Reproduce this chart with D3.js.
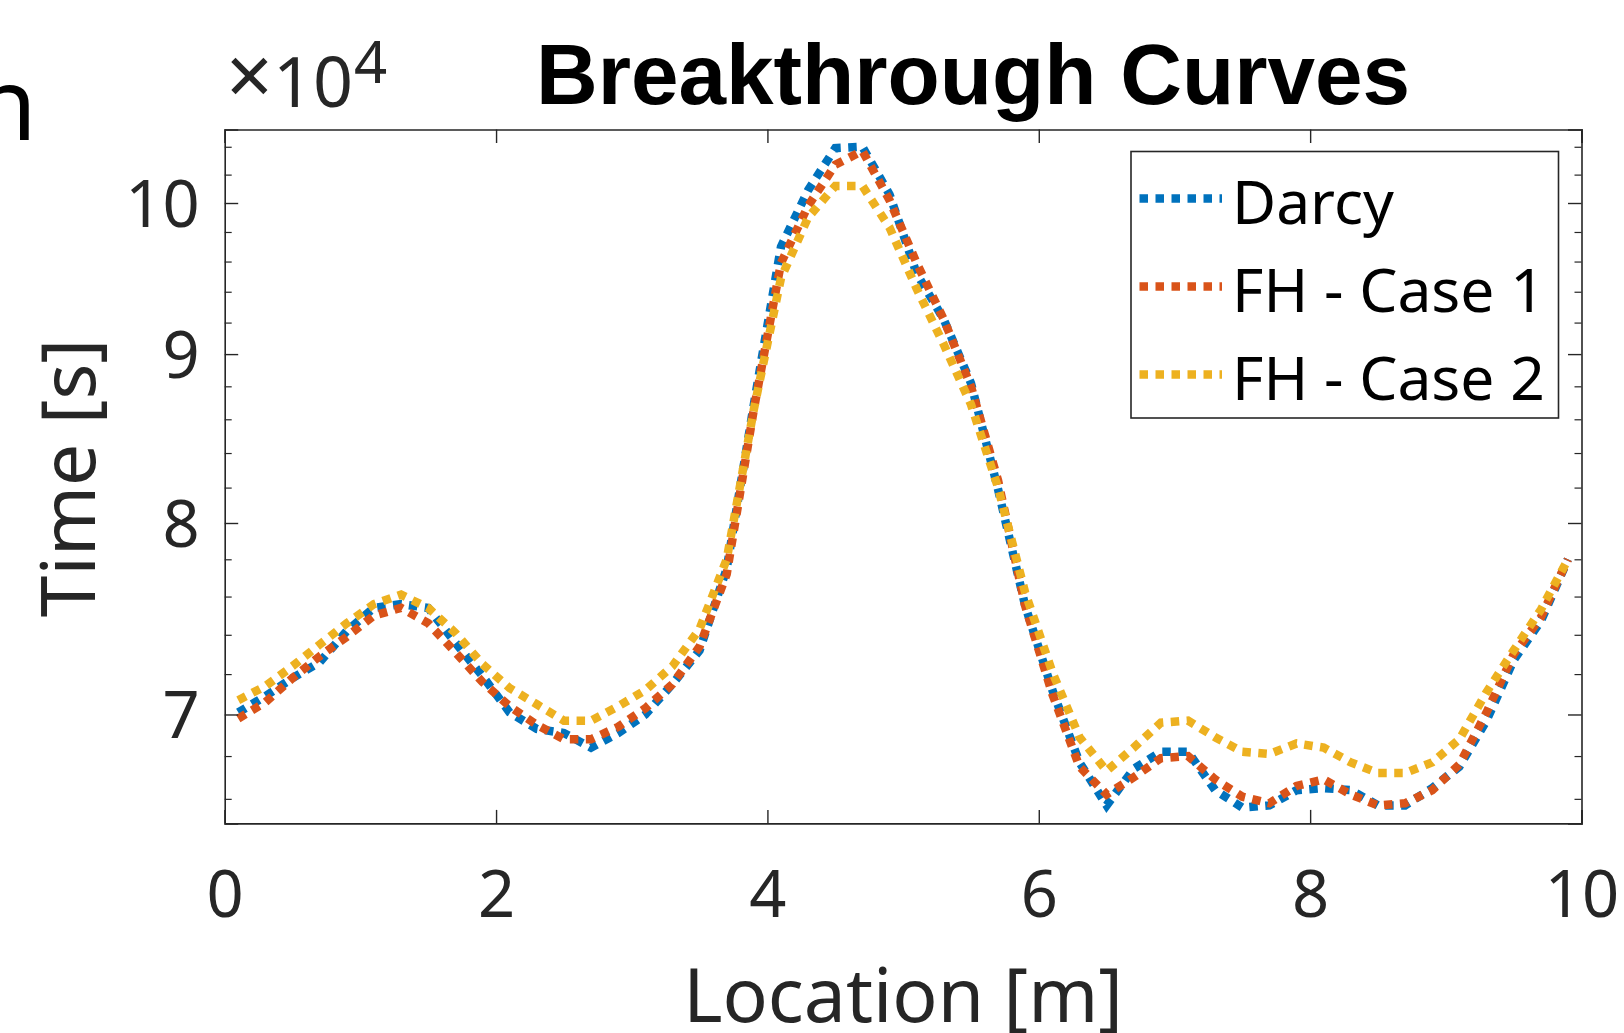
<!DOCTYPE html>
<html>
<head>
<meta charset="utf-8">
<script src="https://cdn.jsdelivr.net/npm/d3@7"></script>
<style>
  html, body { margin: 0; padding: 0; background: #ffffff; }
  svg { display: block; }
</style>
</head>
<body>
<svg id="chart" width="1624" height="1033"></svg>
<script>
// ---------------- DATA ----------------
const locations = [0.1,0.3,0.5,0.7,0.9,1.1,1.3,1.5,1.7,1.9,2.1,2.3,2.5,2.7,2.9,3.1,3.3,3.5,3.7,3.9,
  4.1,4.3,4.5,4.7,4.9,5.1,5.3,5.5,5.7,5.9,6.1,6.3,6.5,6.7,6.9,7.1,7.3,7.5,7.7,7.9,
  8.1,8.3,8.5,8.7,8.9,9.1,9.3,9.5,9.7,9.9];
// Time values in units of 10^4 s
const timeDarcy = [7.01,7.09,7.18,7.26,7.42,7.54,7.56,7.54,7.36,7.19,7.01,6.93,6.91,6.84,6.91,7.00,7.15,7.32,7.75,8.69,
  9.70,10.09,10.39,10.40,10.06,9.52,9.22,8.82,8.19,7.55,7.12,6.77,6.57,6.74,6.82,6.82,6.64,6.56,6.57,6.64,
  6.65,6.64,6.57,6.57,6.65,6.75,6.97,7.27,7.47,7.80];
const timeCase1 = [6.98,7.06,7.18,7.29,7.39,7.50,7.54,7.46,7.31,7.16,7.04,6.95,6.88,6.88,6.94,7.03,7.15,7.34,7.72,8.66,
  9.59,9.98,10.27,10.37,10.02,9.59,9.22,8.80,8.24,7.55,7.10,6.75,6.62,6.70,6.79,6.80,6.69,6.61,6.58,6.66,
  6.69,6.62,6.57,6.58,6.64,6.76,7.01,7.30,7.49,7.80];
const timeCase2 = [7.07,7.14,7.24,7.35,7.46,7.56,7.61,7.54,7.41,7.25,7.13,7.05,6.97,6.97,7.04,7.12,7.24,7.43,7.80,8.66,
  9.49,9.90,10.12,10.12,9.83,9.42,9.06,8.69,8.20,7.62,7.21,6.89,6.73,6.84,6.96,6.97,6.89,6.82,6.81,6.86,
  6.84,6.77,6.72,6.72,6.77,6.88,7.11,7.32,7.53,7.80];
const seriesNames = ["Darcy", "FH - Case 1", "FH - Case 2"];
const seriesColors = ["#0072BD", "#D95319", "#EDB120"];
const xTicks = [0, 2, 4, 6, 8, 10];
const yTicks = [7, 8, 9, 10];
const yMinorTicks = [6.6,6.8,7.2,7.4,7.6,7.8,8.2,8.4,8.6,8.8,9.2,9.4,9.6,9.8,10.2,10.4];
const xDomain = [0, 10];
const yDomain = [6.488, 10.526];

// ---------------- LAYOUT ----------------
const L = 224.7, R = 1581.5, T = 129.5, B = 823.4;
const axisColor = "#262626";
const fontMain = "'Noto Sans', 'Open Sans', sans-serif";

const svg = d3.select("#chart");
const x = d3.scaleLinear().domain(xDomain).range([L, R]);
const y = d3.scaleLog().domain(yDomain).range([B, T]);

// ---------------- LINES ----------------
const series = [timeDarcy, timeCase1, timeCase2];
const line = d3.line().x((d, i) => x(locations[i])).y(d => y(d));
const plotG = svg.append("g");
series.forEach((vals, k) => {
  plotG.append("path")
    .datum(vals)
    .attr("d", line)
    .attr("fill", "none")
    .attr("stroke", seriesColors[k])
    .attr("stroke-width", 8.5)
    .attr("stroke-dasharray", "8.5 7.5")
    .attr("stroke-linecap", "butt")
    .attr("stroke-linejoin", "miter");
});

// ---------------- AXES ----------------
const majorLen = 13.5, minorLen = 7;
const axG = svg.append("g");
// bottom axis (ticks inward)
const xAxisB = d3.axisBottom(x).tickValues(xTicks).tickSize(-majorLen).tickFormat(d3.format("d"));
const gxb = axG.append("g").attr("transform", `translate(0,${B})`).call(xAxisB);
gxb.select(".domain").attr("stroke", axisColor).attr("stroke-width", 1.6);
gxb.selectAll(".tick line").attr("stroke", axisColor).attr("stroke-width", 1.4);
gxb.selectAll(".tick text")
  .attr("fill", axisColor).attr("font-family", fontMain).attr("font-size", 65)
  .attr("dy", null).attr("y", 94);
// top axis
const xAxisT = d3.axisTop(x).tickValues(xTicks).tickSize(-majorLen).tickFormat("");
const gxt = axG.append("g").attr("transform", `translate(0,${T})`).call(xAxisT);
gxt.select(".domain").attr("stroke", axisColor).attr("stroke-width", 1.6);
gxt.selectAll(".tick line").attr("stroke", axisColor).attr("stroke-width", 1.4);

// left axis
const yAxisL = d3.axisLeft(y).tickValues(yTicks).tickSize(-majorLen).tickFormat(d3.format("d"));
const gyl = axG.append("g").attr("transform", `translate(${L},0)`).call(yAxisL);
gyl.select(".domain").attr("stroke", axisColor).attr("stroke-width", 1.6);
gyl.selectAll(".tick line").attr("stroke", axisColor).attr("stroke-width", 1.4);
gyl.selectAll(".tick text")
  .attr("fill", axisColor).attr("font-family", fontMain).attr("font-size", 65)
  .attr("x", -25).attr("dy", "0.36em");
const yMinL = d3.axisLeft(y).tickValues(yMinorTicks).tickSize(-minorLen).tickFormat("");
const gyml = axG.append("g").attr("transform", `translate(${L},0)`).call(yMinL);
gyml.select(".domain").remove();
gyml.selectAll(".tick line").attr("stroke", axisColor).attr("stroke-width", 1.2);

// right axis
const yAxisR = d3.axisRight(y).tickValues(yTicks).tickSize(-majorLen).tickFormat("");
const gyr = axG.append("g").attr("transform", `translate(${R},0)`).call(yAxisR);
gyr.select(".domain").attr("stroke", axisColor).attr("stroke-width", 1.6);
gyr.selectAll(".tick line").attr("stroke", axisColor).attr("stroke-width", 1.4);
const yMinR = d3.axisRight(y).tickValues(yMinorTicks).tickSize(-minorLen).tickFormat("");
const gymr = axG.append("g").attr("transform", `translate(${R},0)`).call(yMinR);
gymr.select(".domain").remove();
gymr.selectAll(".tick line").attr("stroke", axisColor).attr("stroke-width", 1.2);

// ---------------- LABELS ----------------
svg.append("text")
  .attr("x", (L + R) / 2).attr("y", 1022)
  .attr("text-anchor", "middle")
  .attr("font-family", fontMain).attr("font-size", 75).attr("fill", axisColor)
  .text("Location [m]");

svg.append("text")
  .attr("transform", `translate(95,${478}) rotate(-90)`)
  .attr("text-anchor", "middle")
  .attr("font-family", fontMain).attr("font-size", 75).attr("fill", axisColor)
  .text("Time [s]");

// exponent label
const expT = svg.append("text")
  .attr("x", 226).attr("y", 106.5)
  .attr("font-family", fontMain).attr("font-size", 70).attr("fill", axisColor);
expT.append("tspan").attr("font-size", 82).attr("dy", -2).text("×");
expT.append("tspan").attr("dy", 2).text("10");
expT.append("tspan").attr("font-size", 58).attr("dx", 1).attr("dy", -24).text("4");

// title
svg.append("text")
  .attr("x", 973).attr("y", 103.5)
  .attr("text-anchor", "middle")
  .attr("font-family", "'Liberation Sans', Arial, sans-serif")
  .attr("font-weight", "bold").attr("font-size", 85.5).attr("fill", "#000000")
  .text("Breakthrough Curves");

// cut-off letter from neighbouring panel
svg.append("text")
  .attr("x", -25).attr("y", 140)
  .attr("font-family", fontMain).attr("font-size", 100).attr("fill", "#000000")
  .text("n");

// ---------------- LEGEND ----------------
const lg = svg.append("g");
lg.append("rect")
  .attr("x", 1131).attr("y", 151.5).attr("width", 427.5).attr("height", 266.5)
  .attr("fill", "#ffffff").attr("stroke", axisColor).attr("stroke-width", 1.6);
const rowY = [198.6, 286.6, 374.6];
seriesNames.forEach((name, k) => {
  lg.append("line")
    .attr("x1", 1139.5).attr("x2", 1222).attr("y1", rowY[k]).attr("y2", rowY[k])
    .attr("stroke", seriesColors[k]).attr("stroke-width", 8.5)
    .attr("stroke-dasharray", "8.5 7.5").attr("stroke-linecap", "butt");
  lg.append("text")
    .attr("x", 1232).attr("y", rowY[k] + 25)
    .attr("font-family", fontMain).attr("font-size", 60.5).attr("fill", "#000000")
    .text(name);
});
</script>
</body>
</html>
